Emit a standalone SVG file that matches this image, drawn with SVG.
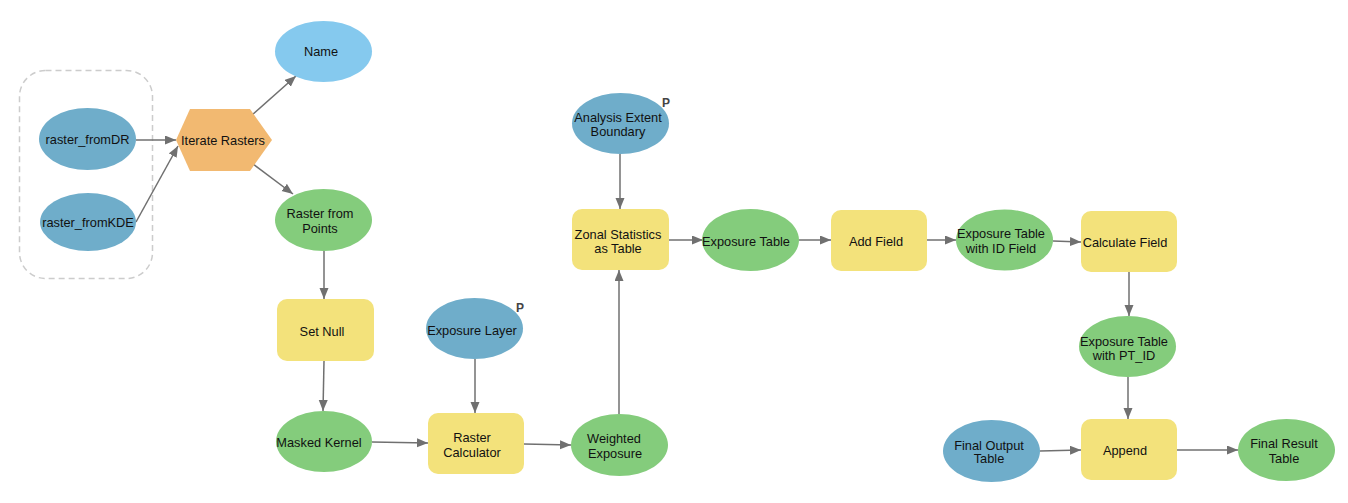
<svg xmlns="http://www.w3.org/2000/svg" width="1348" height="503" viewBox="0 0 1348 503">
<style>
text{font-family:"Liberation Sans",Arial,sans-serif;font-size:12.8px;fill:#111;text-anchor:middle;dominant-baseline:central}
.inp{fill:#6FADCA}
.nm{fill:#85C9EE}
.out{fill:#84CC7C}
.tool{fill:#F3E27B}
.iter{fill:#F2B971}
.conn{stroke:#707070;stroke-width:1.5;fill:none;marker-end:url(#ah)}
.p{font-weight:bold;font-size:12px;fill:#444;text-anchor:start}
</style>
<defs>
<marker id="ah" markerUnits="userSpaceOnUse" markerWidth="12" markerHeight="10" refX="11" refY="4.5" orient="auto">
<path d="M0,0 L11,4.5 L0,9 z" fill="#707070"/>
</marker>
</defs>
<rect x="0" y="0" width="1348" height="503" fill="#fff"/>
<g id="group-box"><rect x="19.5" y="70.5" width="133" height="208" rx="26" fill="none" stroke="#CCCCCC" stroke-width="1.5" stroke-dasharray="6,4"/></g>
<g id="connectors">
<line class="conn" x1="136" y1="140" x2="176" y2="140"/>
<line class="conn" x1="136" y1="222" x2="178" y2="146"/>
<line class="conn" x1="252" y1="115" x2="296" y2="76"/>
<line class="conn" x1="253" y1="164" x2="293" y2="194"/>
<line class="conn" x1="324" y1="251" x2="324" y2="299"/>
<line class="conn" x1="324" y1="361" x2="323" y2="411"/>
<line class="conn" x1="475" y1="359" x2="475" y2="413"/>
<line class="conn" x1="372" y1="442" x2="428" y2="443"/>
<line class="conn" x1="524" y1="444" x2="571" y2="445"/>
<line class="conn" x1="619" y1="414" x2="619" y2="270"/>
<line class="conn" x1="620" y1="154" x2="620" y2="209"/>
<line class="conn" x1="669" y1="240" x2="703" y2="240"/>
<line class="conn" x1="799" y1="240" x2="831" y2="240"/>
<line class="conn" x1="927" y1="240" x2="956" y2="240"/>
<line class="conn" x1="1053" y1="241" x2="1081" y2="242"/>
<line class="conn" x1="1129" y1="272" x2="1129" y2="316"/>
<line class="conn" x1="1128" y1="377" x2="1128" y2="419"/>
<line class="conn" x1="1040" y1="451" x2="1081" y2="450"/>
<line class="conn" x1="1177" y1="450" x2="1238" y2="450"/>
</g>
<g id="raster_fromDR"><ellipse class="inp" cx="87.5" cy="139" rx="48.5" ry="31"/><text x="87.5" y="139">raster_fromDR</text></g>
<g id="raster_fromKDE"><ellipse class="inp" cx="88" cy="222" rx="48" ry="29"/><text x="88" y="222">raster_fromKDE</text></g>
<g id="iterate-rasters"><polygon class="iter" points="176,140 190,109 250,109 272,140 250,171 190,171"/><text x="223" y="140">Iterate Rasters</text></g>
<g id="name"><ellipse class="nm" cx="323.5" cy="51.5" rx="48.5" ry="30.5"/><text x="321" y="51.5">Name</text></g>
<g id="raster-from-points"><ellipse class="out" cx="323.5" cy="220" rx="48.5" ry="31"/><text x="320" y="213">Raster from</text><text x="320" y="228">Points</text></g>
<g id="set-null"><rect class="tool" x="277" y="299" width="97" height="62" rx="10"/><text x="322" y="331">Set Null</text></g>
<g id="masked-kernel"><ellipse class="out" cx="324" cy="441.5" rx="48" ry="30.5"/><text x="319" y="442">Masked Kernel</text></g>
<g id="exposure-layer"><ellipse class="inp" cx="474.5" cy="328.5" rx="48.5" ry="30.5"/><text x="472" y="330">Exposure Layer</text><text class="p" x="516" y="308">P</text></g>
<g id="raster-calculator"><rect class="tool" x="428" y="413" width="96" height="61" rx="10"/><text x="472" y="437">Raster</text><text x="472" y="452">Calculator</text></g>
<g id="weighted-exposure"><ellipse class="out" cx="619.5" cy="445" rx="48.5" ry="31"/><text x="614" y="438">Weighted</text><text x="615" y="453">Exposure</text></g>
<g id="analysis-extent-boundary"><ellipse class="inp" cx="620.5" cy="123.5" rx="48.5" ry="30.5"/><text x="618" y="117">Analysis Extent</text><text x="618" y="131">Boundary</text><text class="p" x="662" y="103">P</text></g>
<g id="zonal-statistics"><rect class="tool" x="572" y="209" width="97" height="61" rx="10"/><text x="618" y="234">Zonal Statistics</text><text x="618" y="248">as Table</text></g>
<g id="exposure-table"><ellipse class="out" cx="750.5" cy="240" rx="48.5" ry="31"/><text x="746" y="241">Exposure Table</text></g>
<g id="add-field"><rect class="tool" x="831" y="210" width="96" height="61" rx="10"/><text x="876" y="241">Add Field</text></g>
<g id="exposure-table-id"><ellipse class="out" cx="1004.5" cy="240" rx="48.5" ry="30.5"/><text x="1001" y="233">Exposure Table</text><text x="1001" y="248">with ID Field</text></g>
<g id="calculate-field"><rect class="tool" x="1081" y="211" width="96" height="61" rx="10"/><text x="1125" y="242">Calculate Field</text></g>
<g id="exposure-table-pt"><ellipse class="out" cx="1127.5" cy="346.5" rx="48.5" ry="30.5"/><text x="1124" y="341">Exposure Table</text><text x="1124" y="355">with PT_ID</text></g>
<g id="final-output-table"><ellipse class="inp" cx="991.5" cy="451" rx="48.5" ry="31"/><text x="989" y="445">Final Output</text><text x="989" y="458">Table</text></g>
<g id="append"><rect class="tool" x="1081" y="419" width="96" height="61" rx="10"/><text x="1125" y="450">Append</text></g>
<g id="final-result-table"><ellipse class="out" cx="1286.5" cy="450" rx="48.5" ry="31"/><text x="1284" y="443">Final Result</text><text x="1284" y="458">Table</text></g>
</svg>
